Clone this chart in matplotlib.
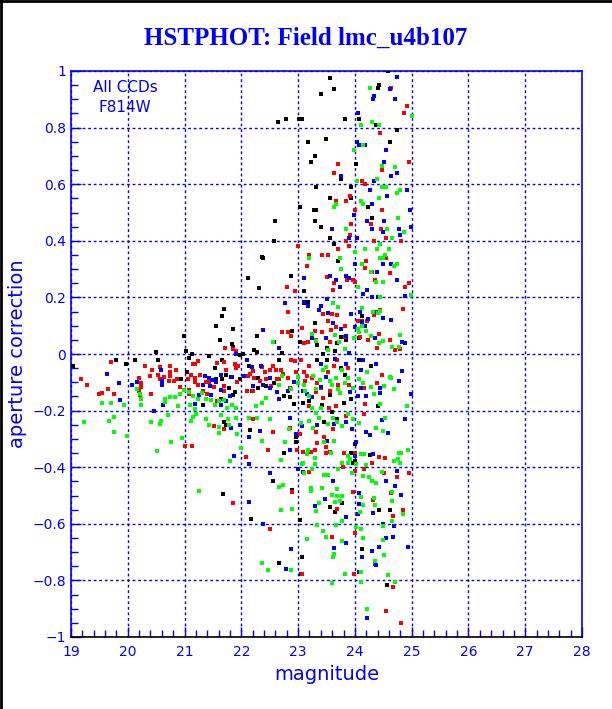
import matplotlib
matplotlib.use("Agg")
import matplotlib.pyplot as plt
from matplotlib.ticker import MultipleLocator, FuncFormatter
from matplotlib.lines import Line2D

# (magnitude, aperture correction), one list per chip colour
black_pts = [
    (23.56, 0.975), (23.41, 0.92), (23.63, 0.935), (24.42, 0.95), (24.41, 0.94), (24.58, 1.0),
    (22.78, 0.83), (22.64, 0.82), (23.06, 0.83), (23.02, 0.83), (23.82, 0.83), (24.07, 0.83),
    (24.37, 0.81), (23.49, 0.76), (23.18, 0.75), (24.61, 0.75), (23.3, 0.70), (23.22, 0.68),
    (24.02, 0.67), (23.76, 0.62), (23.32, 0.59), (23.04, 0.52), (23.28, 0.51), (23.32, 0.51),
    (24.23, 0.52), (23.56, 0.55), (22.59, 0.47), (23.29, 0.47), (23.4, 0.45), (24.3, 0.48),
    (24.57, 0.44), (22.57, 0.40), (22.39, 0.34), (23.63, 0.39), (23.56, 0.41), (23.94, 0.55),
    (23.94, 0.59), (24.75, 0.79), (22.37, 0.344),
    (21.69, 0.16), (21.66, 0.135), (21.55, 0.10), (21.85, 0.09), (20.99, 0.064), (21.62, 0.048),
    (21.83, 0.037), (21.86, 0.025), (20.50, 0.007), (21.02, 0.01), (21.13, 0.0), (21.43, -0.006),
    (19.79, -0.02), (20.54, -0.022), (20.13, -0.022), (19.97, -0.035), (19.04, -0.043),
    (21.08, -0.014), (21.66, -0.02), (21.89, -0.035), (21.98, -0.005), (22.03, 0.0),
    (21.04, -0.063), (20.94, -0.088), (21.66, -0.088), (21.73, -0.074), (21.82, -0.083),
    (21.79, -0.12), (21.89, -0.135), (21.86, -0.146), (21.64, -0.158), (21.33, -0.18),
    (21.69, -0.24), (21.73, -0.25), (21.98, -0.09), (21.55, -0.09), (21.53, -0.05),
    (21.67, -0.496),
    (22.75, -0.35), (24.27, -0.356), (24.32, -0.352), (24.0, -0.379), (23.96, -0.386),
    (22.9, -0.48), (22.56, -0.45), (23.77, -0.525), (23.56, -0.54), (23.65, -0.56),
    (24.42, -0.55), (24.61, -0.55), (22.17, -0.584), (23.04, -0.588), (24.13, -0.689),
    (23.06, -0.717), (22.66, -0.74), (23.05, -0.777), (24.57, -0.815), (23.93, -0.35),
    (22.11, 0.27), (22.31, 0.233), (22.87, 0.276), (23.11, 0.223), (23.7, 0.327), (23.18, 0.182),
    (22.28, 0.062), (22.57, 0.041), (22.71, 0.002), (22.9, 0.08), (23.03, 0.044), (23.29, 0.109),
    (23.1, 0.181), (23.34, 0.033), (23.69, 0.039), (23.76, 0.06), (23.85, 0.05), (23.51, 0.022),
    (23.65, 0.012), (24.08, 0.058), (24.13, 0.135), (23.43, 0.001), (22.22, 0.013), (22.28, 0.006),
    (22.13, -0.043), (22.29, -0.084), (22.58, -0.102), (22.43, -0.113), (22.29, -0.119),
    (22.75, -0.149), (22.85, -0.153), (22.93, -0.178), (23.08, -0.172), (23.19, -0.166),
    (23.33, -0.02), (23.51, -0.02), (23.75, -0.049), (23.82, -0.074), (23.93, -0.16),
    (23.42, -0.18), (23.56, -0.145), (23.8, -0.172), (24.07, -0.02), (24.29, -0.043),
    (24.41, -0.184), (22.19, -0.131), (22.66, -0.02), (22.15, -0.268), (22.96, -0.312),
    (23.46, -0.242), (23.59, -0.205), (23.68, -0.23), (22.97, -0.295), (24.01, -0.318),
]

red_pts = [
    (24.64, 0.94), (24.92, 0.875), (24.86, 0.85), (24.44, 0.78), (23.7, 0.67), (23.63, 0.64),
    (24.96, 0.68), (24.48, 0.65), (24.12, 0.61), (24.18, 0.60), (23.92, 0.56), (23.66, 0.54),
    (23.85, 0.54), (24.15, 0.53), (24.01, 0.51), (24.48, 0.51), (23.93, 0.46), (24.29, 0.46),
    (24.46, 0.44), (24.54, 0.41), (23.92, 0.42), (23.85, 0.40), (22.99, 0.38), (23.2, 0.35),
    (23.52, 0.35), (23.42, 0.35), (23.71, 0.37), (23.9, 0.38), (24.33, 0.40), (24.81, 0.40),
    (24.55, 0.34),
    (21.72, 0.02), (21.85, 0.018), (21.9, 0.01), (21.23, -0.025), (21.14, -0.034), (19.7, -0.03),
    (20.3, -0.043), (20.56, -0.046), (20.42, -0.057), (20.75, -0.044), (20.85, -0.055),
    (21.19, -0.037), (21.57, -0.032), (21.69, -0.03), (21.88, -0.034), (21.73, -0.055),
    (21.9, -0.05), (21.95, -0.043), (20.74, -0.062), (20.75, -0.076), (20.54, -0.073),
    (20.56, -0.089), (20.64, -0.083), (20.4, -0.078), (20.19, -0.084), (20.73, -0.097),
    (20.81, -0.097), (20.87, -0.09), (20.23, -0.104), (20.23, -0.116), (19.17, -0.09),
    (19.28, -0.11), (19.65, -0.124), (19.76, -0.14), (19.49, -0.14), (19.54, -0.138),
    (20.2, -0.131), (20.22, -0.145), (20.41, -0.141), (20.92, -0.118), (21.08, -0.127),
    (21.18, -0.1), (21.06, -0.087), (21.11, -0.075), (21.19, -0.085), (21.24, -0.108),
    (21.27, -0.074), (21.32, -0.131), (21.39, -0.14), (21.08, -0.14), (21.43, -0.1),
    (21.51, -0.117), (21.69, -0.113), (21.7, -0.131), (21.92, -0.098), (21.58, -0.166),
    (21.51, -0.254), (21.7, -0.265), (21.01, -0.324), (21.13, -0.326), (21.37, -0.1),
    (21.85, -0.526),
    (22.47, -0.339), (22.08, -0.363), (22.98, -0.339), (23.08, -0.345), (23.22, -0.345),
    (23.3, -0.34), (23.49, -0.35), (23.56, -0.346), (23.8, -0.351), (24.01, -0.35),
    (24.42, -0.364), (24.53, -0.367), (24.31, -0.385), (23.79, -0.401), (24.01, -0.415),
    (24.16, -0.408), (24.52, -0.42), (24.96, -0.421), (23.2, -0.418), (24.74, -0.433),
    (22.9, -0.488), (23.96, -0.489), (24.64, -0.49), (24.32, -0.517), (23.68, -0.546),
    (24.04, -0.564), (24.85, -0.553), (24.67, -0.573), (22.5, -0.618), (24.01, -0.633),
    (23.59, -0.646), (24.36, -0.743), (23.06, -0.778), (24.68, -0.822), (24.55, -0.908),
    (24.82, -0.952), (23.99, -0.777),
    (23.16, 0.312), (23.51, 0.273), (23.64, 0.251), (22.8, 0.237), (22.94, 0.221), (23.86, 0.261),
    (23.96, 0.262), (24.01, 0.253), (24.2, 0.327), (24.3, 0.29), (24.36, 0.263), (24.61, 0.287),
    (24.88, 0.237), (24.96, 0.251), (24.17, 0.305), (23.62, 0.226), (22.82, 0.15), (22.82, 0.078),
    (22.87, 0.062), (22.71, 0.078), (23.06, 0.091), (23.3, 0.081), (23.31, 0.05), (23.18, 0.044),
    (23.1, 0.039), (23.44, 0.14), (23.42, 0.076), (23.6, 0.141), (23.68, 0.137), (23.52, 0.115),
    (23.58, 0.085), (23.67, 0.097), (23.82, 0.099), (23.82, 0.06), (23.56, 0.044), (24.05, 0.115),
    (24.13, 0.118), (24.21, 0.115), (24.33, 0.138), (24.44, 0.156), (24.09, 0.06), (24.42, 0.071),
    (24.61, 0.05), (24.71, 0.015), (24.85, 0.158), (24.8, 0.018), (24.23, 0.05), (24.39, 0.021),
    (22.11, -0.078), (22.16, -0.072), (22.21, -0.061), (22.23, -0.084), (22.32, -0.095),
    (22.36, -0.046), (22.41, -0.065), (22.44, -0.09), (22.5, -0.055), (22.55, -0.041),
    (22.53, -0.113), (22.61, -0.055), (22.62, -0.09), (22.67, -0.09), (22.69, -0.055),
    (22.74, -0.07), (22.83, -0.085), (22.85, -0.119), (22.87, -0.02), (22.95, -0.023),
    (22.96, -0.064), (23.05, -0.02), (23.1, -0.063), (23.16, -0.078), (23.12, -0.096),
    (23.2, -0.041), (23.25, -0.085), (23.34, -0.104), (23.4, -0.119), (23.43, -0.154),
    (23.56, -0.129), (23.31, -0.135), (23.53, -0.065), (23.63, -0.043), (23.69, -0.02),
    (23.7, -0.109), (23.87, -0.048), (23.9, -0.108), (24.16, -0.119), (24.17, -0.178),
    (24.39, -0.104), (24.48, -0.073), (23.54, -0.19), (23.2, -0.184), (23.67, -0.184),
    (22.1, -0.131), (22.21, -0.131),
    (22.21, -0.23), (22.56, -0.277), (22.86, -0.26), (23.04, -0.283), (23.32, -0.277),
    (23.33, -0.315), (23.46, -0.295), (23.61, -0.265), (23.84, -0.219), (24.16, -0.213),
    (23.49, -0.33),
]

blue_pts = [
    (24.75, 0.98), (24.62, 0.935), (24.34, 0.91), (24.32, 0.90), (24.71, 0.90), (24.05, 0.85),
    (24.04, 0.75), (24.07, 0.74), (24.18, 0.74), (24.55, 0.72), (24.52, 0.68), (23.75, 0.63),
    (24.64, 0.63), (24.75, 0.64), (24.34, 0.61), (24.26, 0.58), (24.92, 0.58), (24.57, 0.56),
    (24.3, 0.53), (23.98, 0.49), (24.22, 0.47), (24.51, 0.47), (24.3, 0.44), (24.5, 0.43),
    (24.78, 0.44), (24.98, 0.45), (23.6, 0.44), (24.04, 0.41), (23.89, 0.41), (24.8, 0.42),
    (24.97, 0.51),
    (19.64, -0.071), (19.84, -0.104), (19.87, -0.163), (20.08, -0.11), (20.16, -0.1),
    (20.58, -0.057), (20.6, -0.096), (20.61, -0.111), (20.46, -0.2), (20.62, -0.18),
    (21.36, -0.078), (21.43, -0.085), (21.48, -0.093), (21.56, -0.1), (21.65, -0.074),
    (21.84, -0.08), (21.32, -0.11), (21.46, -0.146), (21.64, -0.127), (21.8, -0.15),
    (21.18, -0.175), (21.26, -0.145), (21.64, -0.18), (21.73, -0.166), (21.9, 0.0),
    (21.82, -0.262), (21.98, -0.25), (22.05, -0.078), (21.45, -0.113),
    (21.87, -0.361),
    (22.13, -0.388), (22.51, -0.419), (22.85, -0.339), (22.99, -0.406), (23.09, -0.417),
    (24.0, -0.36), (24.32, -0.352), (24.75, -0.413), (24.55, -0.448), (24.71, -0.465),
    (24.81, -0.497), (23.61, -0.448), (23.68, -0.476), (24.07, -0.49), (24.08, -0.53),
    (24.05, -0.565), (24.32, -0.563), (23.48, -0.512), (23.29, -0.536), (22.13, -0.523),
    (22.38, -0.6), (23.84, -0.576), (24.5, -0.6), (24.69, -0.608), (24.54, -0.651),
    (24.67, -0.647), (23.84, -0.667), (23.63, -0.687), (24.13, -0.717), (24.42, -0.683),
    (24.31, -0.695), (24.94, -0.683), (22.87, -0.69), (22.79, -0.76), (24.38, -0.745),
    (24.08, -0.771), (24.22, -0.932),
    (23.1, 0.269), (23.57, 0.276), (23.66, 0.263), (23.85, 0.277), (23.89, 0.269), (24.01, 0.317),
    (24.49, 0.317), (24.39, 0.29), (24.64, 0.319), (24.74, 0.263), (24.15, 0.212), (24.21, 0.226),
    (24.31, 0.202), (24.41, 0.202), (24.89, 0.205), (23.73, 0.237), (23.51, 0.193),
    (22.77, 0.179), (23.1, 0.185), (23.18, 0.168), (23.37, 0.156), (23.52, 0.144), (23.62, 0.111),
    (23.76, 0.088), (23.84, 0.062), (23.94, 0.142), (24.09, 0.15), (24.13, 0.112), (24.23, 0.124),
    (24.18, 0.099), (24.37, 0.147), (24.49, 0.126), (24.64, 0.12), (24.83, 0.043), (24.89, 0.039),
    (22.38, 0.085), (22.67, 0.02), (23.4, 0.17), (24.01, 0.097), (24.36, 0.056), (23.49, 0.056),
    (23.25, 0.056), (23.9, 0.004),
    (22.1, -0.02), (22.18, -0.046), (22.2, -0.113), (22.34, -0.043), (22.5, -0.084),
    (22.39, -0.108), (22.51, -0.119), (22.62, -0.135), (22.67, -0.16), (22.83, -0.131),
    (22.92, -0.1), (23.09, -0.131), (23.15, -0.143), (23.25, -0.151), (23.4, -0.117),
    (23.4, -0.037), (23.49, -0.081), (23.65, -0.016), (23.84, -0.037), (23.91, -0.135),
    (24.11, -0.119), (24.06, -0.149), (24.11, -0.055), (24.2, -0.149), (24.38, -0.037),
    (24.45, -0.119), (24.45, -0.137), (24.78, -0.096), (24.83, -0.061), (24.99, -0.143),
    (24.14, -0.02),
    (22.13, -0.295), (22.32, -0.271), (22.86, -0.225), (22.96, -0.283), (23.06, -0.254),
    (23.34, -0.251), (23.51, -0.306), (23.63, -0.248), (23.95, -0.265), (24.02, -0.31),
    (24.19, -0.277), (24.26, -0.287), (24.47, -0.234), (24.58, -0.28), (24.88, -0.228),
    (23.85, -0.242),
]

green_pts = [
    (24.26, 0.94), (25.0, 0.84), (24.3, 0.82), (24.43, 0.81), (24.1, 0.81), (24.14, 0.74),
    (23.99, 0.72), (24.48, 0.665), (24.71, 0.66), (24.39, 0.62), (24.03, 0.61), (24.55, 0.59),
    (24.48, 0.59), (24.8, 0.58), (24.75, 0.57), (24.42, 0.55), (24.1, 0.54), (24.14, 0.53),
    (23.66, 0.53), (23.63, 0.52), (24.76, 0.48), (24.56, 0.44), (23.85, 0.44), (24.65, 0.41),
    (24.86, 0.43), (24.45, 0.39), (24.39, 0.37), (24.17, 0.37), (24.6, 0.37), (24.45, 0.34),
    (24.5, 0.34), (24.53, 0.35), (23.74, 0.34), (24.0, 0.36), (23.2, 0.34),
    (19.54, -0.172), (19.71, -0.172), (19.94, -0.181), (19.76, -0.223), (19.67, -0.237),
    (19.23, -0.239), (19.76, -0.274), (19.98, -0.29), (20.23, -0.158), (20.23, -0.179),
    (20.16, -0.123), (20.22, -0.14), (20.65, -0.17), (20.65, -0.158), (20.74, -0.153),
    (20.84, -0.152), (20.92, -0.143), (20.88, -0.185), (20.71, -0.215), (20.58, -0.236),
    (20.57, -0.246), (20.41, -0.24), (20.77, -0.312), (20.95, -0.298), (20.99, -0.126),
    (21.07, -0.134), (21.14, -0.147), (21.1, -0.18), (21.18, -0.195), (21.2, -0.213),
    (21.14, -0.223), (21.11, -0.237), (21.24, -0.159), (21.3, -0.137), (21.37, -0.16),
    (21.46, -0.164), (21.54, -0.18), (21.61, -0.166), (21.7, -0.161), (21.75, -0.19),
    (21.84, -0.18), (21.91, -0.192), (21.64, -0.215), (21.77, -0.228), (21.9, -0.226),
    (21.37, -0.228), (21.43, -0.251), (21.61, -0.258), (21.79, -0.251), (21.92, -0.283),
    (22.0, -0.332), (21.61, -0.278),
    (20.51, -0.343), (21.8, -0.379), (21.25, -0.483),
    (23.18, -0.34), (23.16, -0.354), (22.7, -0.374), (23.08, -0.385), (23.3, -0.366),
    (23.58, -0.35), (23.88, -0.36), (23.92, -0.372), (24.02, -0.387), (23.88, -0.385),
    (24.11, -0.352), (24.16, -0.354), (24.19, -0.392), (24.77, -0.35), (24.81, -0.35),
    (24.94, -0.339), (24.76, -0.371), (24.69, -0.379), (24.8, -0.385), (23.3, -0.388),
    (23.06, -0.389), (23.1, -0.42), (23.24, -0.407), (23.71, -0.405), (23.77, -0.384),
    (23.95, -0.421), (24.14, -0.43), (24.24, -0.435), (24.3, -0.449), (24.38, -0.457),
    (24.47, -0.418), (23.46, -0.429), (23.52, -0.426), (22.74, -0.462), (22.66, -0.469),
    (23.23, -0.473), (23.22, -0.483), (23.42, -0.474), (23.69, -0.477), (23.59, -0.497),
    (23.68, -0.5), (23.78, -0.502), (23.73, -0.519), (23.65, -0.523), (23.36, -0.526),
    (23.32, -0.556), (24.1, -0.506), (24.15, -0.532), (24.34, -0.508), (24.35, -0.532),
    (24.66, -0.489), (24.66, -0.519), (24.85, -0.567), (24.09, -0.558), (22.69, -0.55),
    (22.9, -0.546), (23.78, -0.59), (23.34, -0.605), (23.67, -0.605), (23.43, -0.626),
    (24.1, -0.62), (24.02, -0.613), (24.49, -0.608), (24.66, -0.59), (23.49, -0.647),
    (23.15, -0.655), (23.78, -0.661), (24.15, -0.651), (24.5, -0.657), (23.64, -0.706),
    (23.62, -0.716), (24.51, -0.711), (24.35, -0.731), (24.11, -0.771), (23.83, -0.778),
    (24.58, -0.78), (22.87, -0.764), (22.47, -0.764), (22.36, -0.74), (23.6, -0.808),
    (24.1, -0.806), (24.7, -0.806), (24.22, -0.902),
    (23.75, 0.302), (24.12, 0.317), (24.75, 0.319), (24.69, 0.31), (24.06, 0.237), (24.28, 0.289),
    (24.38, 0.253), (24.5, 0.253), (24.98, 0.209), (24.44, 0.202),
    (23.62, 0.181), (23.7, 0.167), (24.12, 0.163), (24.32, 0.15), (24.41, 0.144), (24.45, 0.153),
    (24.12, 0.099), (24.06, 0.09), (23.98, 0.055), (24.07, 0.077), (24.2, 0.083), (24.29, 0.065),
    (24.49, 0.046), (24.42, 0.039), (24.79, 0.068), (24.65, 0.025), (24.77, 0.025), (23.65, 0.068),
    (23.72, 0.044), (23.53, 0.015), (23.83, 0.016), (23.25, 0.07), (23.32, 0.047), (22.56, 0.044),
    (22.26, -0.184), (22.36, -0.172), (22.43, -0.154), (22.67, -0.108), (22.72, -0.078),
    (22.88, -0.125), (23.0, -0.102), (23.0, -0.081), (23.1, -0.111), (23.13, -0.131),
    (23.19, -0.149), (23.26, -0.076), (23.32, -0.125), (23.39, -0.092), (23.44, -0.055),
    (23.49, -0.046), (23.56, -0.096), (23.6, -0.111), (23.66, -0.084), (23.71, -0.125),
    (23.74, -0.139), (23.78, -0.055), (23.82, -0.104), (23.87, -0.084), (23.96, -0.119),
    (24.07, -0.088), (24.14, -0.104), (24.22, -0.064), (24.28, -0.116), (24.34, -0.143),
    (24.45, -0.178), (24.52, -0.113), (24.61, -0.081), (24.64, -0.084), (24.69, -0.125),
    (24.92, -0.184), (23.4, -0.19), (23.24, -0.19),
    (22.13, -0.225), (22.28, -0.225), (22.36, -0.306), (22.5, -0.228), (22.77, -0.312),
    (22.84, -0.265), (23.05, -0.244), (23.19, -0.236), (23.27, -0.26), (23.31, -0.209),
    (23.36, -0.225), (23.53, -0.248), (23.61, -0.225), (23.69, -0.242), (23.77, -0.254),
    (23.87, -0.213), (23.96, -0.228), (24.07, -0.244), (24.38, -0.26), (24.5, -0.271),
    (24.53, -0.225), (23.46, -0.312), (23.63, -0.306),
]

x_ticks = [19, 20, 21, 22, 23, 24, 25, 26, 27, 28]
y_ticks = [-1, -0.8, -0.6, -0.4, -0.2, 0, 0.2, 0.4, 0.6, 0.8, 1]

BLUE = "#0000ff"

fig = plt.figure(figsize=(6.12, 7.09), dpi=100)
ax = fig.add_axes([71 / 612, 1 - 637 / 709, 511 / 612, 566 / 709])

for pts, col in [(black_pts, "black"), (red_pts, "#ff0000"),
                 (blue_pts, BLUE), (green_pts, "#00ff00")]:
    xs = [p[0] for p in pts]
    ys = [p[1] for p in pts]
    ax.scatter(xs, ys, s=5, marker="s", c=col, linewidths=0, zorder=3)

ax.set_xlim(19, 28)
ax.set_ylim(-1, 1)
ax.set_xticks(x_ticks)
ax.set_yticks(y_ticks)
ax.xaxis.set_minor_locator(MultipleLocator(0.2))
ax.yaxis.set_minor_locator(MultipleLocator(0.05))
ax.yaxis.set_major_formatter(FuncFormatter(lambda v, p: f"{v:g}".replace("-", "\u2212")))
ax.grid(True, which="major", color=BLUE, linestyle=(0, (2, 2)), linewidth=1.0, zorder=1)
ax.tick_params(which="both", direction="in", colors=BLUE, labelcolor=BLUE,
               labelsize=10, top=False, right=False)
ax.tick_params(which="major", length=7, width=1)
ax.tick_params(which="minor", length=5, width=1)
ax.tick_params(axis="x", pad=6)

for side in ["left", "top", "right"]:
    ax.spines[side].set_color(BLUE)
ax.spines["bottom"].set_color("black")
for sp in ax.spines.values():
    sp.set_linewidth(1.2)

ax.set_xlabel("magnitude", color=BLUE, fontsize=14, labelpad=4)
ax.set_ylabel("aperture correction", color=BLUE, fontsize=14, labelpad=4)

ax.text(19.95, 0.94, "All CCDs", color=BLUE, fontsize=11, ha="center", va="center")
ax.text(19.95, 0.87, "F814W", color=BLUE, fontsize=11, ha="center", va="center")

fig.text(0.5, 1 - 38 / 709, "HSTPHOT: Field lmc_u4b107", color=BLUE,
         family="Liberation Serif", weight="bold", fontsize=18, ha="center", va="center")

# frame at the left and top edge of the canvas
fig.add_artist(Line2D([0.002, 0.002], [0, 1], color="black", linewidth=2, transform=fig.transFigure))
fig.add_artist(Line2D([0, 1], [0.999, 0.999], color="black", linewidth=2, transform=fig.transFigure))

fig.savefig("out.png", dpi=100)
